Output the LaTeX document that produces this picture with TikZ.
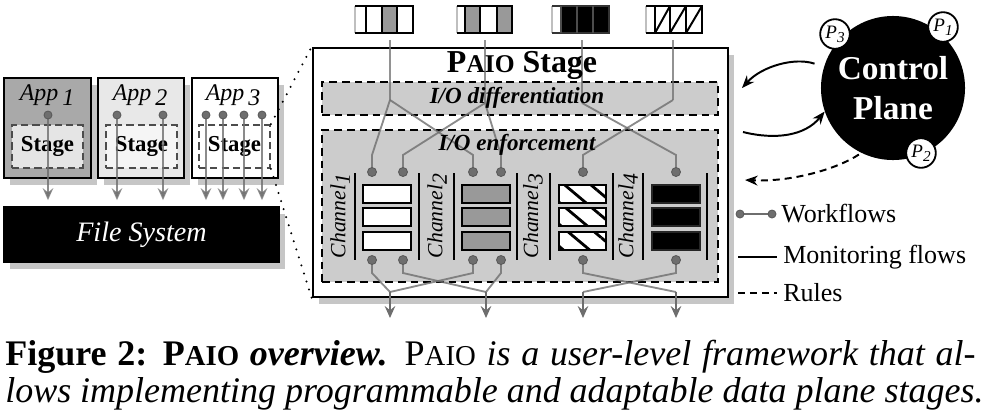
\documentclass[tikz,border=0pt]{standalone}
\usepackage{fontspec}
\setmainfont{Liberation Serif}
\usetikzlibrary{arrows.meta,shadows,fit,patterns.meta}

\definecolor{flowgray}{HTML}{6E6E6E}
\definecolor{shadowgray}{HTML}{C6C6C6}
\definecolor{regiongray}{HTML}{CCCCCC}
\definecolor{queuegray}{HTML}{999999}
\definecolor{appdark}{HTML}{A9A9A9}
\definecolor{appmid}{HTML}{E8E8E8}

\newcommand{\paio}{P\scalebox{0.8}{AIO}}
\newcommand{\lowidx}[1]{\raisebox{-0.45ex}{#1}}

\tikzset{
    boxshadow/.style={drop shadow={shadow xshift=4.2pt,shadow yshift=-5pt,fill=shadowgray,opacity=1}},
    appbox/.style={draw,line width=1.8pt,inner sep=0pt,boxshadow},
    applabel/.style={font=\fontsize{17}{18}\selectfont\itshape},
    stagebox/.style={draw=black!70,line width=1.3pt,dash pattern=on 5pt off 3pt,inner sep=0pt},
    stagelabel/.style={font=\fontsize{16.2}{18}\selectfont\bfseries},
    region/.style={draw,fill=regiongray,line width=1.5pt,dash pattern=on 5.5pt off 3.5pt,inner sep=0pt},
    regionlabel/.style={font=\fontsize{16.4}{18}\selectfont\bfseries\itshape},
    flow/.style={flowgray,line width=1.3pt},
    flowtip/.style={-{Stealth[length=8.5pt,width=7.5pt,inset=3pt]}},
    flowdot/.style={fill=flowgray,draw=black!65,line width=0.6pt},
    zoomline/.style={line width=1.6pt,line cap=round,dash pattern=on 0pt off 6pt},
    reqcell/.style={line width=1.4pt},
    chbar/.style={line width=2pt},
    slot/.style={draw,line width=1.8pt},
    chlabel/.style={rotate=90,font=\fontsize{15.4}{17}\selectfont\itshape},
    ctrl/.style={circle,fill=black,minimum size=3.6cm,inner sep=0pt,align=center,text=white,font=\fontsize{23.7}{28}\selectfont\bfseries},
    policy/.style={circle,draw,fill=white,line width=1.3pt,minimum size=0.74cm,inner sep=0pt,font=\fontsize{13.5}{14}\selectfont\itshape},
    monitor/.style={line width=1.4pt,-{Stealth[length=9pt,width=7pt]}},
    rulearrow/.style={line width=1.4pt,dash pattern=on 5pt off 3.5pt,-{Stealth[length=9pt,width=7pt]}},
    legendtext/.style={anchor=west,inner sep=0pt,font=\fontsize{18.5}{20}\selectfont},
    captext/.style={anchor=base west,inner sep=0pt,font=\fontsize{25.6}{26}\selectfont},
}

\begin{document}
\begin{tikzpicture}[x=0.025cm,y=-0.025cm]
\useasboundingbox (0,0) rectangle (988,416);

% applications and file system
\node[appbox,fill=appdark,fit={(4,78) (91,178)}] (app1) {};
\node[appbox,fill=appmid,fit={(98,78) (184,178)}] (app2) {};
\node[appbox,fill=white,fit={(192,78) (278,178)}] (app3) {};

\node[applabel] (app1lab) at (47,95) {App\,\lowidx{1}};
\node[applabel] (app2lab) at (140,95) {App\,\lowidx{2}};
\node[applabel] (app3lab) at (233,95) {App\,\lowidx{3}};

\node[stagebox,fill=black!10,fit={(12,125) (83,168)}] (stage1) {};
\node[stagebox,fill=black!4,fit={(106,125) (177,168)}] (stage2) {};
\node[stagebox,fill=white,fit={(199,125) (270,168)}] (stage3) {};
\node[stagelabel] (stage1lab) at (stage1.center) {Stage};
\node[stagelabel] (stage2lab) at (stage2.center) {Stage};
\node[stagelabel] (stage3lab) at (stage3.center) {Stage};

\node[appbox,fill=black,fit={(4,207) (279,262)}] (fs) {};
\node[text=white,font=\fontsize{20}{22}\selectfont\itshape] (fslab) at (fs.center) {File System};

\coordinate (wa) at (48,115);
\coordinate (wb) at (117,115);
\coordinate (wc) at (163,115);
\coordinate (wd) at (206,115);
\coordinate (we) at (223,115);
\coordinate (wf) at (244,115);
\coordinate (wg) at (262,115);

\draw[flow,flowtip,opacity=0.8,shorten >=4pt] (wa) -- (wa |- fs.north);
\draw[flow,flowtip,opacity=0.8,shorten >=4pt] (wb) -- (wb |- fs.north);
\draw[flow,flowtip,opacity=0.8,shorten >=4pt] (wc) -- (wc |- fs.north);
\draw[flow,flowtip,opacity=0.8,shorten >=4pt] (wd) -- (wd |- fs.north);
\draw[flow,flowtip,opacity=0.8,shorten >=4pt] (we) -- (we |- fs.north);
\draw[flow,flowtip,opacity=0.8,shorten >=4pt] (wf) -- (wf |- fs.north);
\draw[flow,flowtip,opacity=0.8,shorten >=4pt] (wg) -- (wg |- fs.north);

\path[flowdot] (wa) circle [radius=4];
\path[flowdot] (wb) circle [radius=4];
\path[flowdot] (wc) circle [radius=4];
\path[flowdot] (wd) circle [radius=4];
\path[flowdot] (we) circle [radius=4];
\path[flowdot] (wf) circle [radius=4];
\path[flowdot] (wg) circle [radius=4];

% PAIO stage
\node[draw,fill=white,line width=1.8pt,inner sep=0pt,boxshadow,fit={(313,48) (728,297)}] (paio) {};
\node[region,fit={(322,82) (718,115)}] (diff) {};
\node[region,fit={(322,130) (718,282)}] (enf) {};

\draw[zoomline] (stage3.north east) -- (paio.north west);
\draw[zoomline] (stage3.south east) -- (paio.south west);

% incoming requests
\fill[white] (355,6) rectangle (413,33);
\fill[queuegray] (382,6) rectangle (397,33);
\draw[black!25,line width=0.8pt] (355,6) -- (355,33);
\draw[reqcell] (355,6) -- (413,6) -- (413,33) -- (355,33);
\draw[reqcell] (366,6) -- (366,33) (382,6) -- (382,33) (397,6) -- (397,33);

\fill[white] (457,6) rectangle (512,33);
\fill[queuegray] (465,6) rectangle (480,33);
\fill[queuegray] (497,6) rectangle (512,33);
\draw[black!25,line width=0.8pt] (457,6) -- (457,33);
\draw[reqcell] (457,6) -- (512,6) -- (512,33) -- (457,33);
\draw[reqcell] (465,6) -- (465,33) (480,6) -- (480,33) (497,6) -- (497,33);

\fill[white] (552,6) rectangle (561,33);
\fill[black] (561,6) rectangle (609,33);
\draw[black!25,line width=0.8pt] (552,6) -- (552,33);
\draw[reqcell,black!80] (552,6) -- (609,6) -- (609,33) -- (552,33);
\draw[reqcell,black!70] (561,6) -- (561,33) (577,6) -- (577,33) (593,6) -- (593,33);

\fill[white] (646,6) rectangle (702,33);
\draw[black!25,line width=0.8pt] (646,6) -- (646,33);
\draw[reqcell] (646,6) -- (702,6) -- (702,33) -- (646,33);
\draw[reqcell] (655,6) -- (655,33) (670,6) -- (670,33) (686,6) -- (686,33);
\draw[reqcell] (655,33) -- (670,6) (670,33) -- (686,6) (686,33) -- (702,6);

% differentiation
\coordinate (r1) at (390,40);
\coordinate (r2) at (485,40);
\coordinate (r3) at (582,40);
\coordinate (r4) at (673,40);
\coordinate (r1b) at (390,100);
\coordinate (r2b) at (485,103);
\coordinate (r3b) at (582,103);
\coordinate (r4b) at (673,100);

\coordinate (c1a) at (372,172);
\coordinate (c1b) at (403,172);
\coordinate (c2a) at (473,172);
\coordinate (c2b) at (501,172);
\coordinate (c3a) at (583,172);
\coordinate (c4a) at (676,172);

\draw[flow,opacity=0.75] (r1) -- (r1b);
\draw[flow,opacity=0.75] (r2) -- (r2b);
\draw[flow,opacity=0.75] (r3) -- (r3b);
\draw[flow,opacity=0.75] (r4) -- (r4b);
\draw[flow,opacity=0.8] (c1a) -- ++(0,-17) -- (r1b);
\draw[flow,opacity=0.8] (c2a) -- ++(0,-17) -- (r1b);
\draw[flow,opacity=0.8] (c1b) -- ++(0,-17) -- (r2b);
\draw[flow,opacity=0.8] (c2b) -- ++(0,-17) -- (r2b);
\draw[flow,opacity=0.8] (c4a) -- ++(0,-17) -- (r3b);
\draw[flow,opacity=0.8] (c3a) -- ++(0,-17) -- (r4b);

\node[font=\fontsize{22.7}{24}\selectfont\bfseries] (title) at (522,65) {\paio{} Stage};
\node[regionlabel] (difflab) at (517,98) {I/O differentiation};
\node[regionlabel] (enflab) at (517,145) {I/O enforcement};

% channels
\draw[chbar] (355,173) -- (355,260);
\draw[chbar] (419,173) -- (419,260);
\draw[chbar] (454,173) -- (454,260);
\draw[chbar] (517,173) -- (517,260);
\draw[chbar] (550,173) -- (550,260);
\draw[chbar] (613,173) -- (613,260);
\draw[chbar] (643,173) -- (643,260);
\draw[chbar] (707,173) -- (707,260);

\draw[slot,fill=white] (363,185) rectangle (411,203);
\draw[slot,fill=white] (363,208) rectangle (411,226);
\draw[slot,fill=white] (363,232) rectangle (411,250);

\draw[slot,fill=queuegray] (462,185) rectangle (510,203);
\draw[slot,fill=queuegray] (462,208) rectangle (510,226);
\draw[slot,fill=queuegray] (462,232) rectangle (510,250);

\fill[white] (559,185) rectangle (606,203);
\fill[white] (559,208) rectangle (606,226);
\fill[white] (559,232) rectangle (606,250);
\draw[slot,pattern={Lines[angle=-40,distance=12pt,line width=2pt]}] (559,185) rectangle (606,203);
\draw[slot,pattern={Lines[angle=-40,distance=12pt,line width=2pt]}] (559,208) rectangle (606,226);
\draw[slot,pattern={Lines[angle=-40,distance=12pt,line width=2pt]}] (559,232) rectangle (606,250);

\draw[slot,fill=black,draw=black!85] (652,185) rectangle (700,203);
\draw[slot,fill=black,draw=black!85] (652,208) rectangle (700,226);
\draw[slot,fill=black,draw=black!85] (652,232) rectangle (700,250);

\node[chlabel] (ch1) at (340,216) {Channel\lowidx{1}};
\node[chlabel] (ch2) at (437,216) {Channel\lowidx{2}};
\node[chlabel] (ch3) at (533,216) {Channel\lowidx{3}};
\node[chlabel] (ch4) at (628,216) {Channel\lowidx{4}};

% outgoing requests
\coordinate (d1a) at (372,260);
\coordinate (d1b) at (403,260);
\coordinate (d2a) at (473,260);
\coordinate (d2b) at (501,260);
\coordinate (d3a) at (583,260);
\coordinate (d4a) at (676,260);

\coordinate (m1) at (390,292);
\coordinate (m2) at (486,292);
\coordinate (m3) at (583,292);
\coordinate (m4) at (676,292);
\coordinate (o1) at (390,318);
\coordinate (o2) at (486,318);
\coordinate (o3) at (583,318);
\coordinate (o4) at (676,318);

\draw[flow,opacity=0.8] (d1a) -- ++(0,13) -- (m1);
\draw[flow,opacity=0.8] (d2a) -- ++(0,13) -- (m1);
\draw[flow,opacity=0.8] (d1b) -- ++(0,13) -- (m2);
\draw[flow,opacity=0.8] (d2b) -- ++(0,13) -- (m2);
\draw[flow,opacity=0.8] (d4a) -- ++(0,13) -- (m3);
\draw[flow,opacity=0.8] (d3a) -- ++(0,13) -- (m4);
\draw[flow,flowtip] (m1) -- (o1);
\draw[flow,flowtip] (m2) -- (o2);
\draw[flow,flowtip] (m3) -- (o3);
\draw[flow,flowtip] (m4) -- (o4);

\path[flowdot] (c1a) circle [radius=4.5];
\path[flowdot] (c1b) circle [radius=4.5];
\path[flowdot] (c2a) circle [radius=4.5];
\path[flowdot] (c2b) circle [radius=4.5];
\path[flowdot] (c3a) circle [radius=4.5];
\path[flowdot] (c4a) circle [radius=4.5];
\path[flowdot] (d1a) circle [radius=4.5];
\path[flowdot] (d1b) circle [radius=4.5];
\path[flowdot] (d2a) circle [radius=4.5];
\path[flowdot] (d2b) circle [radius=4.5];
\path[flowdot] (d3a) circle [radius=4.5];
\path[flowdot] (d4a) circle [radius=4.5];

% control plane
\node[ctrl] (ctrl) at (893,88) {Control\\Plane};
\node[policy] (p1) at (943,27) {P\lowidx{\scalebox{0.8}{1}}};
\node[policy] (p2) at (921,153) {P\lowidx{\scalebox{0.8}{2}}};
\node[policy] (p3) at (835,34) {P\lowidx{\scalebox{0.8}{3}}};

\coordinate (mon1) at (742,88);
\coordinate (mon2) at (743,132);
\coordinate (rul1) at (745,180);

\draw[monitor,shorten <=7pt] (ctrl.163) .. controls (795,57) and (762,66) .. (mon1);
\draw[monitor] (mon2) .. controls (775,140) and (805,136) .. (ctrl.199);
\draw[rulearrow,shorten <=2pt] (ctrl.244) .. controls (835,170) and (790,182) .. (rul1);

% legend
\coordinate (lw1) at (740,214);
\coordinate (lw2) at (772,214);
\coordinate (lm1) at (738,257);
\coordinate (lm2) at (777,257);
\coordinate (lr1) at (738,293);
\coordinate (lr2) at (777,293);

\draw[flow] (lw1) -- (lw2);
\path[flowdot] (lw1) circle [radius=4];
\path[flowdot] (lw2) circle [radius=4];
\draw[line width=1.4pt] (lm1) -- (lm2);
\draw[line width=1.4pt,dash pattern=on 5pt off 3.5pt] (lr1) -- (lr2);

\node[legendtext] (lwlab) at (781,214) {Workflows};
\node[legendtext] (lmlab) at (783,257) {Monitoring flows};
\node[legendtext] (lrlab) at (783,293) {Rules};

% caption
\node[captext] (cap1) at (5,365) {\makebox[24.25cm][s]{\textbf{Figure 2: \paio{} \textit{overview.}} \paio{} \textit{is a user-level framework that al-}}};
\node[captext] (cap2) at (5,402) {\makebox[24.45cm][s]{\textit{lows implementing programmable and adaptable data plane stages.}}};
\end{tikzpicture}
\end{document}
